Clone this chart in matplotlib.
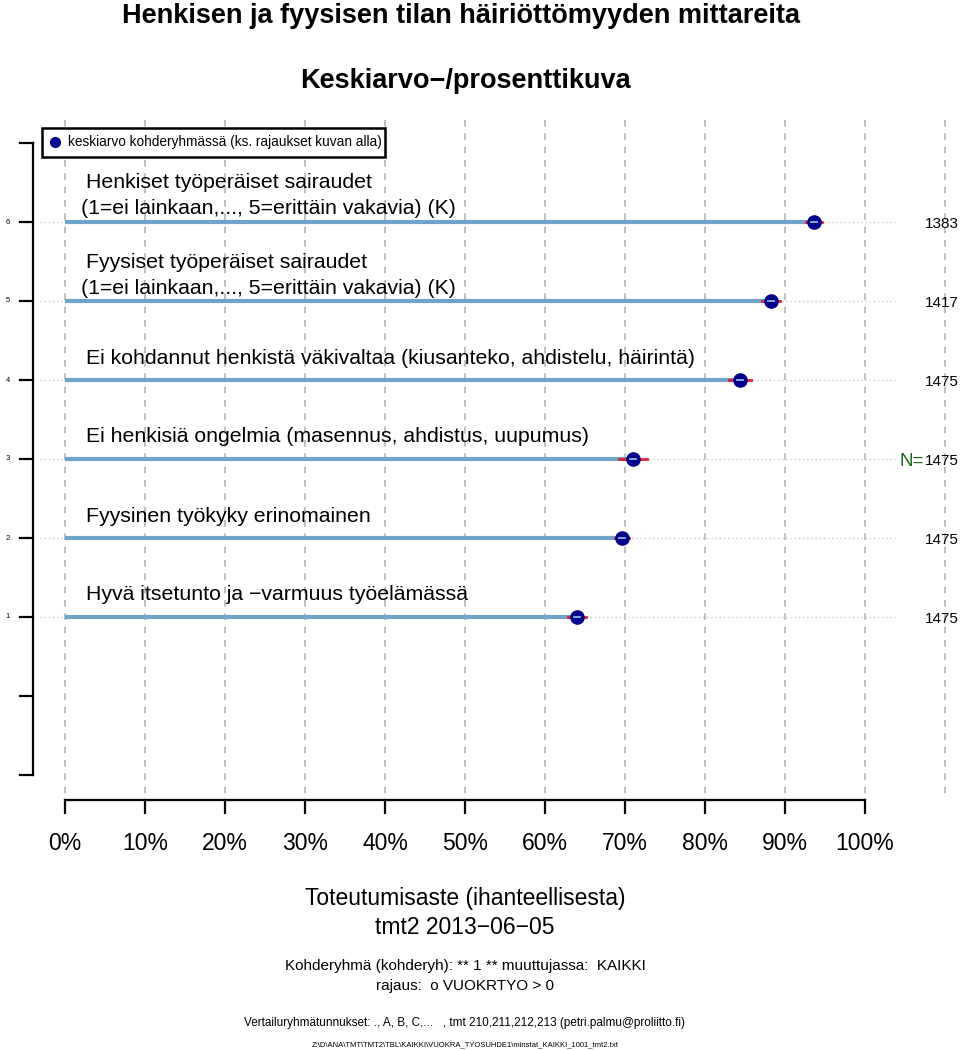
import matplotlib
matplotlib.use('Agg')
import matplotlib.pyplot as plt
from matplotlib.patches import Rectangle

plt.rcParams['font.family'] = ['Liberation Sans', 'DejaVu Sans']

# data (row 1 = bottom)
labels = [
    'Hyvä itsetunto ja −varmuus työelämässä',
    'Fyysinen työkyky erinomainen',
    'Ei henkisiä ongelmia (masennus, ahdistus, uupumus)',
    'Ei kohdannut henkistä väkivaltaa (kiusanteko, ahdistelu, häirintä)',
    'Fyysiset työperäiset sairaudet\n(1=ei lainkaan,..., 5=erittäin vakavia) (K)',
    'Henkiset työperäiset sairaudet\n(1=ei lainkaan,..., 5=erittäin vakavia) (K)',
]
means = [64.0, 69.6, 71.0, 84.4, 88.25, 93.6]
ci_half = [1.1, 0.9, 1.7, 1.4, 1.1, 1.0]
n_values = [1475, 1475, 1475, 1475, 1417, 1383]
rows = [1, 2, 3, 4, 5, 6]
x_ticks = list(range(0, 101, 10))
x_ticklabels = [f'{t}%' for t in x_ticks]

W, H = 960, 1050


def px(xp):
    return (xp - 65) / 8.0


def py(yp):
    return (696 - yp) / 79.0


fig = plt.figure(figsize=(9.6, 10.5), dpi=100, facecolor='white')
ax = fig.add_axes([0, 0, 1, 1])
ax.set_xlim(px(0), px(W))
ax.set_ylim(py(H), py(0))
ax.axis('off')

# vertical dashed grid
for g in range(0, 111, 10):
    ax.plot([g, g], [py(120), py(795)], color='#b4b4b4', lw=1.2,
            dashes=(4, 4), zorder=1)

# rows
for r, m, c, n, lab in zip(rows, means, ci_half, n_values, labels):
    ax.plot([px(40), px(895)], [r, r], color='#cccccc', lw=1, ls=(0, (1, 2)), zorder=2)
    ax.plot([0, m], [r, r], color='#6fa3c8', lw=3, solid_capstyle='butt', zorder=3)
    ax.plot([m - c, m + c], [r, r], color='#e0203a', lw=2, zorder=4)
    ax.plot([m], [r], 'o', color='#00008b', markersize=9.5, zorder=5)
    ax.plot([m - 0.4, m + 0.4], [r, r], color='#8fb8d8', lw=1.3, zorder=6)
    if '\n' in lab:
        first, second = lab.split('\n')
        ax.text(px(86), r + 39 / 79, first, ha='left', va='center', fontsize=15.3, zorder=7)
        ax.text(px(81), r + 13 / 79, second, ha='left', va='center', fontsize=15.3, zorder=7)
    else:
        ax.text(px(86), r + 22 / 79, lab, ha='left', va='center', fontsize=15.3, zorder=7)
    ax.text(px(959), r - 2 / 79, str(n), ha='right', va='center', fontsize=11)
    ax.text(px(8), r, str(r), ha='center', va='center', fontsize=5.5)

ax.text(px(924), 3 - 2 / 79, 'N=', ha='right', va='center', fontsize=13.5, color='#1a6b1a')

# y axis
ax.plot([px(33), px(33)], [py(143), py(775)], color='black', lw=1.6, zorder=8)
for t in range(-1, 8):
    ax.plot([px(20), px(33)], [t, t], color='black', lw=1.6, zorder=8)

# x axis
ax.plot([0, 100], [py(800), py(800)], color='black', lw=1.6)
for t, tl in zip(x_ticks, x_ticklabels):
    ax.plot([t, t], [py(800), py(813)], color='black', lw=1.6)
    ax.text(t, py(844), tl, ha='center', va='center', fontsize=16.5)

# legend
ax.add_patch(Rectangle((px(42), py(157)), px(385) - px(42), py(128) - py(157),
                       facecolor='white', edgecolor='black', lw=1.8, zorder=9))
ax.plot([px(55)], [py(142)], 'o', color='#00008b', markersize=7, zorder=10)
ax.text(px(68), py(142), 'keskiarvo kohderyhmässä (ks. rajaukset kuvan alla)',
        ha='left', va='center', fontsize=9.8, zorder=10)

# titles
ax.text(px(461), py(16), 'Henkisen ja fyysisen tilan häiriöttömyyden mittareita',
        ha='center', va='center', fontsize=19.5, fontweight='bold')
ax.text(px(465), py(81), 'Keskiarvo−/prosenttikuva',
        ha='center', va='center', fontsize=19.5, fontweight='bold')

# bottom texts
ax.text(50, py(899), 'Toteutumisaste (ihanteellisesta)', ha='center', va='center', fontsize=16.5)
ax.text(50, py(927), 'tmt2 2013−06−05', ha='center', va='center', fontsize=16.5)
ax.text(50, py(966), 'Kohderyhmä (kohderyh): ** 1 ** muuttujassa:  KAIKKI',
        ha='center', va='center', fontsize=11)
ax.text(50, py(986), 'rajaus:  o VUOKRTYO > 0', ha='center', va='center', fontsize=11)
ax.text(50, py(1023),
        'Vertailuryhmätunnukset: ., A, B, C,...   , tmt 210,211,212,213 (petri.palmu@proliitto.fi)',
        ha='center', va='center', fontsize=8.5)
ax.text(50, py(1045),
        'Z:\\D\\ANA\\TMT\\TMT2\\TBL\\KAIKKI\\VUOKRA_TYOSUHDE1\\minstat_KAIKKI_1001_tmt2.txt',
        ha='center', va='center', fontsize=5.5)

fig.savefig('out.png', dpi=100, facecolor='white')
plt.close(fig)
